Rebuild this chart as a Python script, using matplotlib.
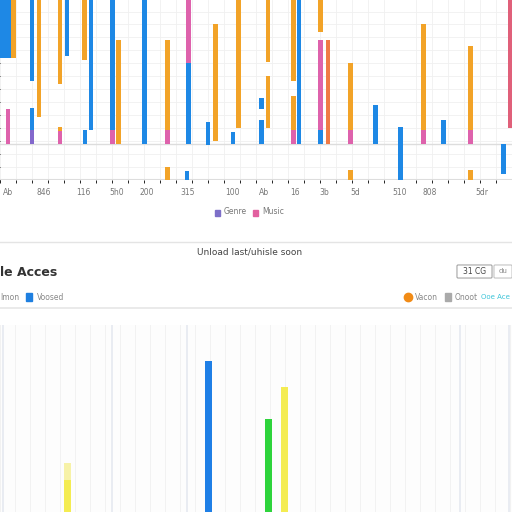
import numpy as np
import matplotlib.pyplot as plt
from matplotlib.patches import Rectangle, FancyBboxPatch

# top chart: floating bars, each series is (x, low, high)
blue_x = [5, 32, 32, 67, 85, 91, 112.5, 144.5, 188.5, 187, 208, 233, 261.5, 261.5, 299, 320.5, 375.5, 400.5, 443.5, 503.5]
blue_lo = [60, 44, 10, 61, 0, 10, 10, 0, 0, -25, -1, 0, 24, 0, 0, 0, 0, -25, 0, -21]
blue_hi = [100, 100, 25, 100, 10, 100, 100, 100, 56, -19, 15, 8, 32, 17, 100, 10, 27, 12, 17, 0]

orange_x = [13.5, 39, 60, 60, 84.5, 118.5, 167.5, 167.5, 215.5, 238.5, 268, 268, 293.5, 293.5, 320.5, 350.5, 350.5, 423.5, 470.5, 470.5]
orange_lo = [60, 19, 42, 9, 58, 0, 10, -25, 2, 11, 57, 11, 44, 10, 78, 10, -25, 10, 10, -25]
orange_hi = [100, 100, 100, 12, 100, 72, 72, -16, 83, 100, 100, 47, 100, 33, 100, 56, -18, 83, 68, -18]

pink_x = [8, 60, 112.5, 167.5, 188.5, 293.5, 320.5, 350.5, 423.5, 470.5, 510]
pink_lo = [0, 0, 0, 0, 56, 0, 10, 0, 0, 0, 11]
pink_hi = [24, 9, 10, 10, 100, 10, 72, 10, 10, 10, 100]

purple_x = [32]
purple_lo = [0]
purple_hi = [10]

red_x = [328]
red_lo = [0]
red_hi = [72]

tick_pos = [8, 44, 83, 117, 147, 188, 232, 264, 295, 324, 355, 400, 430, 482]
tick_labels = ['Ab', '846', '116', '5h0', '200', '315', '100', 'Ab', '16', '3b', '5d', '510', '808', '5dr']

# bottom chart
cat_x = [67, 208, 268, 284]
cat_vals = [17, 81, 50, 67]
cat_extra = [9, 0, 0, 0]
cat_colors = ['#f4ec52', '#1f7fe6', '#2ed43c', '#f4ec52']

W = 512.0
fig = plt.figure(figsize=(5.12, 5.12), dpi=100)
fig.patch.set_facecolor('white')


def fy(px):
    return 1 - px / W


# ---- top panel
ax = fig.add_axes([0, fy(180), 1, 180 / W])
ax.set_xlim(0, 512)
ax.set_ylim(-25, 100)
ax.set_xticks(np.arange(0, 513, 16), minor=True)
ax.set_yticks(np.arange(-25, 101, 9), minor=True)
ax.grid(True, which='minor', color='#f0f0f0', lw=0.6)
ax.set_axisbelow(True)
for s in ax.spines.values():
    s.set_visible(False)
ax.axhline(0, color='#dddddd', lw=1)
ax.axhline(-25, color='#dddddd', lw=1.5)

series = [
    (blue_x, blue_lo, blue_hi, '#1e88e5'),
    (orange_x, orange_lo, orange_hi, '#f2a328'),
    (pink_x, pink_lo, pink_hi, '#de62ac'),
    (purple_x, purple_lo, purple_hi, '#8368cc'),
    (red_x, red_lo, red_hi, '#f07a45'),
]
for xs, lo, hi, c in series:
    xs = np.array(xs)
    lo = np.array(lo)
    hi = np.array(hi)
    ax.bar(xs, hi - lo, bottom=lo, width=4.5, color=c, zorder=3)
# wide blurry first bar
ax.bar(blue_x[0], blue_hi[0] - blue_lo[0], bottom=blue_lo[0], width=11, color='#1e88e5', zorder=3)
ax.bar(510, pink_hi[-1] - pink_lo[-1], bottom=pink_lo[-1], width=4, color='#e0607a', zorder=3)

ax.set_xticks(tick_pos)
ax.set_xticklabels(tick_labels, fontsize=5.5, color='#777777')
ax.tick_params(axis='x', length=0, pad=6)
ax.set_yticks([])

# legend of top chart
fig.patches.append(Rectangle((215 / W, fy(216)), 5 / W, 6 / W, transform=fig.transFigure, color='#7d6fc8'))
fig.text(224 / W, fy(212), 'Genre', fontsize=5.5, color='#777777', va='center')
fig.patches.append(Rectangle((253 / W, fy(216)), 5 / W, 6 / W, transform=fig.transFigure, color='#e2609f'))
fig.text(262 / W, fy(212), 'Music', fontsize=5.5, color='#777777', va='center')

# separators and header
fig.add_artist(plt.Line2D([0, 1], [fy(242), fy(242)], color='#e4e4e4', lw=1))
fig.text(250 / W, fy(252), 'Unload last/uhisle soon', fontsize=6.5, color='#444444', ha='center', va='center')
fig.text(0, fy(272), 'le Acces', fontsize=9, fontweight='bold', color='#333333', va='center')
fig.patches.append(FancyBboxPatch((458 / W, fy(277)), 33 / W, 11 / W, boxstyle='round,pad=0.002',
                                  transform=fig.transFigure, fc='white', ec='#999999', lw=0.7))
fig.text(475 / W, fy(271), '31 CG', fontsize=5.5, color='#444444', ha='center', va='center')
fig.patches.append(FancyBboxPatch((495 / W, fy(277)), 16 / W, 11 / W, boxstyle='round,pad=0.002',
                                  transform=fig.transFigure, fc='white', ec='#bbbbbb', lw=0.7))
fig.text(503 / W, fy(271), 'du', fontsize=5, color='#888888', ha='center', va='center')

fig.text(0, fy(297), 'Imon', fontsize=5.5, color='#888888', va='center')
fig.patches.append(Rectangle((26 / W, fy(301)), 6 / W, 8 / W, transform=fig.transFigure, color='#1e7fe0'))
fig.text(37 / W, fy(297), 'Voosed', fontsize=5.5, color='#888888', va='center')
fig.add_artist(plt.Line2D([408 / W], [fy(297)], marker='o', ms=6, color='#f18b16', transform=fig.transFigure))
fig.text(415 / W, fy(297), 'Vacon', fontsize=5.5, color='#888888', va='center')
fig.patches.append(Rectangle((445 / W, fy(301)), 6 / W, 8 / W, transform=fig.transFigure, color='#aaaaaa'))
fig.text(455 / W, fy(297), 'Onoot', fontsize=5.5, color='#888888', va='center')
fig.text(510 / W, fy(297), 'Ooe Ace', fontsize=5, color='#3cc4d8', va='center', ha='right')
fig.add_artist(plt.Line2D([0, 1], [fy(308), fy(308)], color='#e6e6e6', lw=1.2))

# ---- bottom panel
ax2 = fig.add_axes([0, 0, 1, 187 / W])
ax2.set_facecolor('#fdfdfd')
ax2.set_xlim(0, 512)
ax2.set_ylim(0, 100)
ax2.set_xticks(np.arange(0, 513, 15), minor=True)
ax2.grid(True, which='minor', axis='x', color='#f0f0f0', lw=0.6)
ax2.set_axisbelow(True)
for s in ax2.spines.values():
    s.set_visible(False)
for sx in [3, 112, 187, 460, 509]:
    ax2.axvline(sx, color='#e6e9f0', lw=1.2)
ax2.set_xticks([])
ax2.set_yticks([])
ax2.bar(cat_x, cat_vals, width=7, color=cat_colors, zorder=3)
ax2.bar(cat_x, cat_extra, bottom=cat_vals, width=7, color='#f7f2a8', zorder=3)

fig.savefig('out.png', dpi=100, facecolor='white')
